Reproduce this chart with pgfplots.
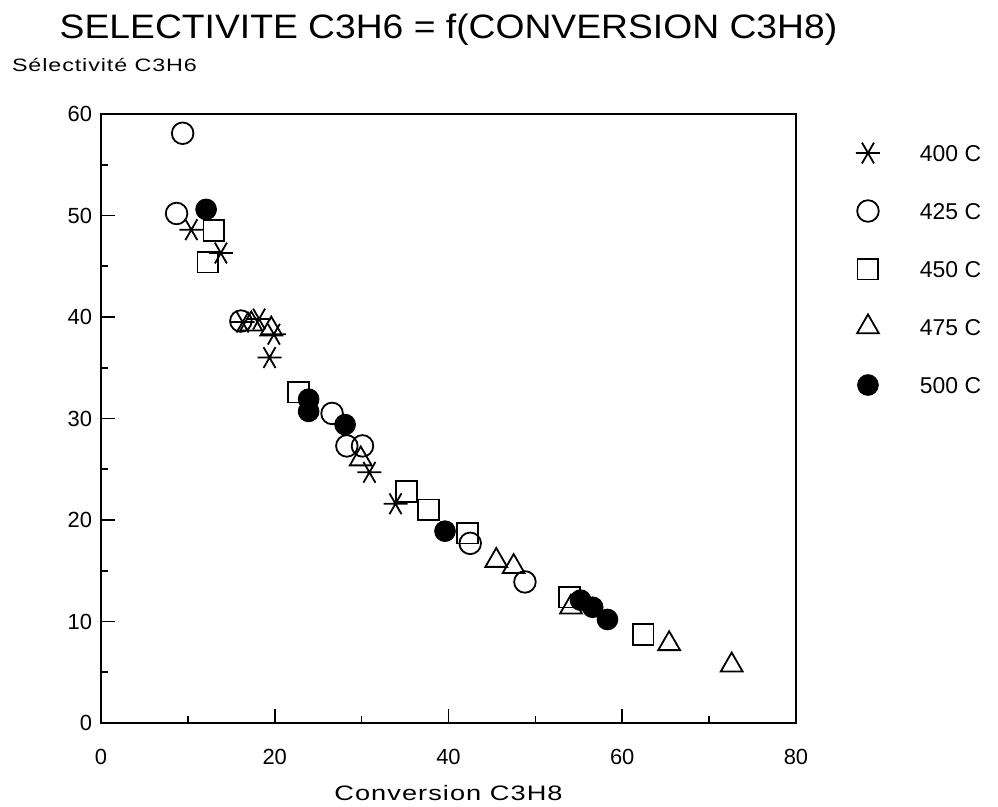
\documentclass[border=0pt]{standalone}
\usepackage{fontspec}
\setmainfont{Liberation Sans}
\newfontfamily\widefont{Liberation Sans}[FakeStretch=1.3,LetterSpace=5]
\newfontfamily\titlefont{Liberation Sans}[FakeStretch=1.1]
\usepackage{pgfplots}
\pgfplotsset{compat=1.18}
\begin{document}
\begin{tikzpicture}
\begin{axis}[
  at={(0,0)}, anchor=south west,
  scale only axis,
  width=347.5bp, height=304.5bp,
  xmin=0, xmax=80, ymin=0, ymax=60,
  xtick={0,20,40,60,80}, ytick={0,10,20,30,40,50,60},
  minor x tick num=1, minor y tick num=1,
  tick align=inside, tick pos=left,
  major tick length=7bp, minor tick length=3.5bp,
  every tick/.style={black, line width=0.8bp},
  axis line style={line width=0.8bp},
  /pgf/number format/assume math mode=true,
  ticklabel style={font=\fontsize{11}{13}\selectfont},
  xticklabel style={yshift=-9.5bp},
  yticklabel style={xshift=-1bp},
  title={SELECTIVITE C3H6 = f(CONVERSION C3H8)},
  title style={at={(0.5,1)}, anchor=base, yshift=32bp, font=\titlefont\fontsize{17}{20}\selectfont},
  xlabel={Conversion C3H8},
  xlabel style={at={(0.5,0)}, anchor=base, yshift=-38.5bp, font=\widefont\fontsize{10.5}{12}\selectfont},
  ylabel={Sélectivité C3H6},
  ylabel style={rotate=-90, at={(0,1)}, anchor=base west, xshift=-48bp, yshift=21bp, font=\widefont\fontsize{9}{11}\selectfont},
  clip=false,
  legend style={at={(1.0777,0.9622)}, anchor=north west, draw=none, fill=none,
    inner sep=0pt, outer sep=0pt, row sep=13bp,
    nodes={inner sep=0pt}, font=\fontsize{11.5}{13}\selectfont,
    cells={anchor=base west}},
  legend image code/.code={\draw[#1] plot coordinates {(9bp,4bp)}; \path[draw=none,fill=none] (0bp,-4bp) rectangle (35bp,12bp);},
]
\addplot[only marks, mark=asterisk, mark size=6bp, mark options={rotate=90, line width=0.9bp}]
coordinates {(10.4,48.6) (13.8,46.3) (16.3,39.5) (18.2,39.8) (19.9,38.3) (19.4,36.0) (30.9,24.7) (33.9,21.6)};
\addlegendentry{400 C}
\addplot[only marks, mark=o, mark size=5.4bp, mark options={line width=0.9bp}]
coordinates {(9.4,58.1) (8.7,50.2) (16.1,39.6) (26.6,30.5) (28.3,27.3) (30.1,27.3) (42.5,17.7) (48.8,13.9)};
\addlegendentry{425 C}
\addplot[only marks, mark=square, mark size=5.2bp, mark options={line width=0.9bp}]
coordinates {(13.0,48.5) (12.3,45.4) (22.7,32.6) (35.2,22.8) (37.7,21.0) (42.2,18.7) (53.9,12.4) (62.4,8.7)};
\addlegendentry{450 C}
\addplot[only marks, mark=triangle, mark size=6.3bp, mark options={line width=0.9bp}]
coordinates {(17.3,39.3) (19.6,38.8) (29.9,26.0) (45.5,16.0) (47.5,15.4) (54.1,11.4) (65.4,7.8) (72.6,5.7)};
\addlegendentry{475 C}
\addplot[only marks, mark=*, mark size=5.2bp, mark options={fill=black, draw=black}]
coordinates {(12.1,50.6) (23.9,31.9) (23.9,30.7) (28.1,29.4) (39.6,18.9) (55.2,12.1) (56.6,11.4) (58.3,10.2)};
\addlegendentry{500 C}
\end{axis}
\pgfresetboundingbox
\path[use as bounding box] (-50.5bp,-42bp) rectangle (448.5bp,361.5bp);
\end{tikzpicture}
\end{document}
